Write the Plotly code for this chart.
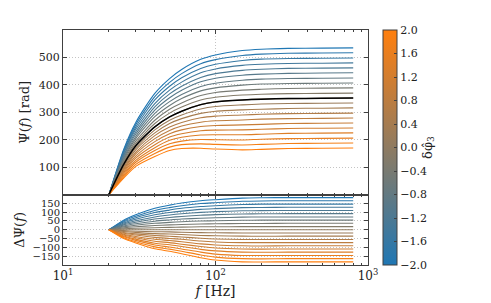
import plotly.graph_objects as go
from plotly.subplots import make_subplots

# ---------------- data ----------------
freq_hz = [20, 25, 30, 40, 50, 60, 80, 100, 150, 200, 300, 500, 800]

# GR phase Psi(f) [rad] (black curve)
psi_gr = [0, 110, 178, 247, 283, 304, 328, 338, 345, 348, 350, 351, 352]

delta_phi3 = [-2.0, -1.8, -1.6, -1.4, -1.2, -1.0, -0.8, -0.6, -0.4, -0.2, 0.0,
              0.2, 0.4, 0.6, 0.8, 1.0, 1.2, 1.4, 1.6, 1.8, 2.0]

# Delta Psi(f) for each delta_phi3 value
dpsi_m20 = [0, 55, 85, 122, 140, 152, 165, 171, 180, 182, 183, 183, 183]
dpsi_m18 = [0, 50, 77, 110, 126, 137, 149, 154, 162, 164, 165, 165, 165]
dpsi_m16 = [0, 44, 68, 98, 112, 122, 132, 137, 144, 146, 146, 146, 146]
dpsi_m14 = [0, 39, 60, 85, 98, 106, 116, 120, 126, 127, 128, 128, 128]
dpsi_m12 = [0, 33, 51, 73, 84, 91, 99, 103, 108, 109, 110, 110, 110]
dpsi_m10 = [0, 28, 43, 61, 70, 76, 83, 86, 90, 91, 92, 92, 92]
dpsi_m08 = [0, 22, 34, 49, 56, 61, 66, 68, 72, 73, 73, 73, 73]
dpsi_m06 = [0, 17, 26, 37, 42, 46, 50, 51, 54, 55, 55, 55, 55]
dpsi_m04 = [0, 11, 17, 24, 28, 30, 33, 34, 36, 36, 37, 37, 37]
dpsi_m02 = [0, 6, 9, 12, 14, 15, 17, 17, 18, 18, 18, 18, 18]
dpsi_p00 = [0, 0, 0, 0, 0, 0, 0, 0, 0, 0, 0, 0, 0]
dpsi_p02 = [0, -5, -8, -11, -12, -14, -16, -17, -18, -18, -18, -18, -18]
dpsi_p04 = [0, -10, -15, -22, -24, -27, -32, -34, -36, -37, -36, -36, -36]
dpsi_p06 = [0, -15, -23, -32, -37, -41, -48, -52, -55, -55, -55, -55, -55]
dpsi_p08 = [0, -20, -30, -43, -49, -54, -64, -69, -73, -73, -73, -73, -73]
dpsi_p10 = [0, -25, -38, -54, -61, -68, -80, -86, -91, -92, -91, -91, -91]
dpsi_p12 = [0, -30, -45, -65, -73, -82, -95, -103, -109, -110, -109, -109, -109]
dpsi_p14 = [0, -35, -53, -76, -85, -95, -111, -120, -127, -128, -127, -127, -127]
dpsi_p16 = [0, -40, -60, -86, -98, -109, -127, -138, -146, -146, -146, -146, -146]
dpsi_p18 = [0, -45, -68, -97, -110, -122, -143, -155, -164, -165, -164, -164, -164]
dpsi_p20 = [0, -50, -75, -108, -122, -136, -159, -172, -182, -183, -182, -182, -182]

dpsi_rows = [dpsi_m20, dpsi_m18, dpsi_m16, dpsi_m14, dpsi_m12, dpsi_m10,
             dpsi_m08, dpsi_m06, dpsi_m04, dpsi_m02, dpsi_p00, dpsi_p02,
             dpsi_p04, dpsi_p06, dpsi_p08, dpsi_p10, dpsi_p12, dpsi_p14,
             dpsi_p16, dpsi_p18, dpsi_p20]

cbar_ticks = [-2.0, -1.6, -1.2, -0.8, -0.4, 0.0, 0.4, 0.8, 1.2, 1.6, 2.0]
top_yticks = [100, 200, 300, 400, 500]
bot_yticks = [-150, -100, -50, 0, 50, 100, 150]
x_major = [10, 100, 1000]
x_minor = [20, 30, 40, 50, 60, 70, 80, 90, 200, 300, 400, 500, 600, 700, 800, 900]

# ---------------- styling ----------------
FONT = "DejaVu Serif"
BLUE = (31, 119, 180)
ORANGE = (255, 127, 14)
AX = "#404040"
GRID = "#c4c4c4"
TXT = "#222"


def cmap(v):
    t = (v + 2.0) / 4.0
    r, g, b = (round(BLUE[i] * (1 - t) + ORANGE[i] * t) for i in range(3))
    return f"rgb({r},{g},{b})"


def fmt(v):
    s = f"{abs(v):.1f}"
    return ("\u2212" + s) if v < 0 else s


def fmti(v):
    return ("\u2212" + str(abs(v))) if v < 0 else str(v)


fig = make_subplots(rows=2, cols=1, shared_xaxes=True, vertical_spacing=0)

for d, row in zip(delta_phi3, dpsi_rows):
    psi = [g + r for g, r in zip(psi_gr, row)]
    c = cmap(d)
    fig.add_trace(go.Scatter(x=freq_hz, y=psi, mode="lines",
                             line=dict(color=c, width=1.1, shape="spline", smoothing=0.7),
                             hoverinfo="skip", showlegend=False), row=1, col=1)
    fig.add_trace(go.Scatter(x=freq_hz, y=row, mode="lines",
                             line=dict(color=c, width=1.1, shape="spline", smoothing=0.7),
                             hoverinfo="skip", showlegend=False), row=2, col=1)

fig.add_trace(go.Scatter(x=freq_hz, y=psi_gr, mode="lines",
                         line=dict(color="black", width=1.5, shape="spline", smoothing=0.7),
                         hoverinfo="skip", showlegend=False), row=1, col=1)

# colorbar carrier
fig.add_trace(go.Scatter(
    x=[freq_hz[0], freq_hz[0]], y=[None, None], mode="markers",
    marker=dict(size=0.1, opacity=0, color=[-2, 2], cmin=-2, cmax=2,
                colorscale=[[0, cmap(-2)], [0.5, cmap(0)], [1, cmap(2)]],
                showscale=True,
                colorbar=dict(
                    x=1.049, xanchor="left", xref="paper", xpad=0, ypad=0,
                    y=0.5, yanchor="middle", len=1.0, lenmode="fraction",
                    thickness=14, outlinewidth=1, outlinecolor=AX,
                    ticks="inside", ticklen=3, tickcolor=AX,
                    tickvals=cbar_ticks, ticktext=[fmt(v) for v in cbar_ticks],
                    tickfont=dict(family=FONT, size=11, color=TXT),
                    title=dict(text="\u03b4\u03c6\u0302<sub>3</sub>", side="right",
                               font=dict(family=FONT, size=13, color=TXT)),
                )),
    hoverinfo="skip", showlegend=False), row=1, col=1)

xcommon = dict(type="log", range=[1, 3], showline=True, linecolor=AX, linewidth=1,
               mirror="allticks", ticks="inside", ticklen=4, tickcolor=AX,
               tickvals=x_major, showgrid=True, gridcolor=GRID,
               griddash="1px,2px", gridwidth=1, zeroline=False,
               minor=dict(ticks="inside", ticklen=2, tickcolor=AX, showgrid=False,
                          tickvals=x_minor))

fig.update_xaxes(**xcommon)
fig.update_xaxes(showticklabels=False, row=1, col=1)
fig.update_xaxes(ticktext=["10<sup>1</sup>", "10<sup>2</sup>", "10<sup>3</sup>"],
                 tickfont=dict(family=FONT, size=12, color=TXT),
                 title=dict(text="<i>f</i> [Hz]", font=dict(family=FONT, size=14, color=TXT),
                            standoff=2),
                 row=2, col=1)

ycommon = dict(showline=True, linecolor=AX, linewidth=1, mirror="allticks",
               ticks="inside", ticklen=4, tickcolor=AX, showgrid=True,
               gridcolor=GRID, griddash="1px,2px", gridwidth=1, zeroline=False,
               tickfont=dict(family=FONT, size=11, color=TXT))
fig.update_yaxes(**ycommon)
fig.update_yaxes(range=[0, 600], tickvals=top_yticks, ticktext=[str(v) for v in top_yticks],
                 domain=[0.2996, 1.0],
                 title=dict(text="\u03a8(<i>f</i>) [rad]", font=dict(family=FONT, size=13, color=TXT),
                            standoff=6),
                 row=1, col=1)
fig.update_yaxes(range=[-200, 200], tickvals=bot_yticks, ticktext=[fmti(v) for v in bot_yticks],
                 domain=[0.0, 0.2996], tickfont=dict(family=FONT, size=10, color=TXT),
                 title=dict(text="\u0394\u03a8(<i>f</i>)", font=dict(family=FONT, size=13, color=TXT),
                            standoff=4),
                 row=2, col=1)

# page body has an 8px default margin, so the figure is offset by 8px
fig.update_layout(width=483, height=295,
                  margin=dict(l=55, r=123, t=22, b=38, autoexpand=False),
                  paper_bgcolor="white", plot_bgcolor="white",
                  font=dict(family=FONT, size=11, color=TXT))

fig.write_html("out.html")
